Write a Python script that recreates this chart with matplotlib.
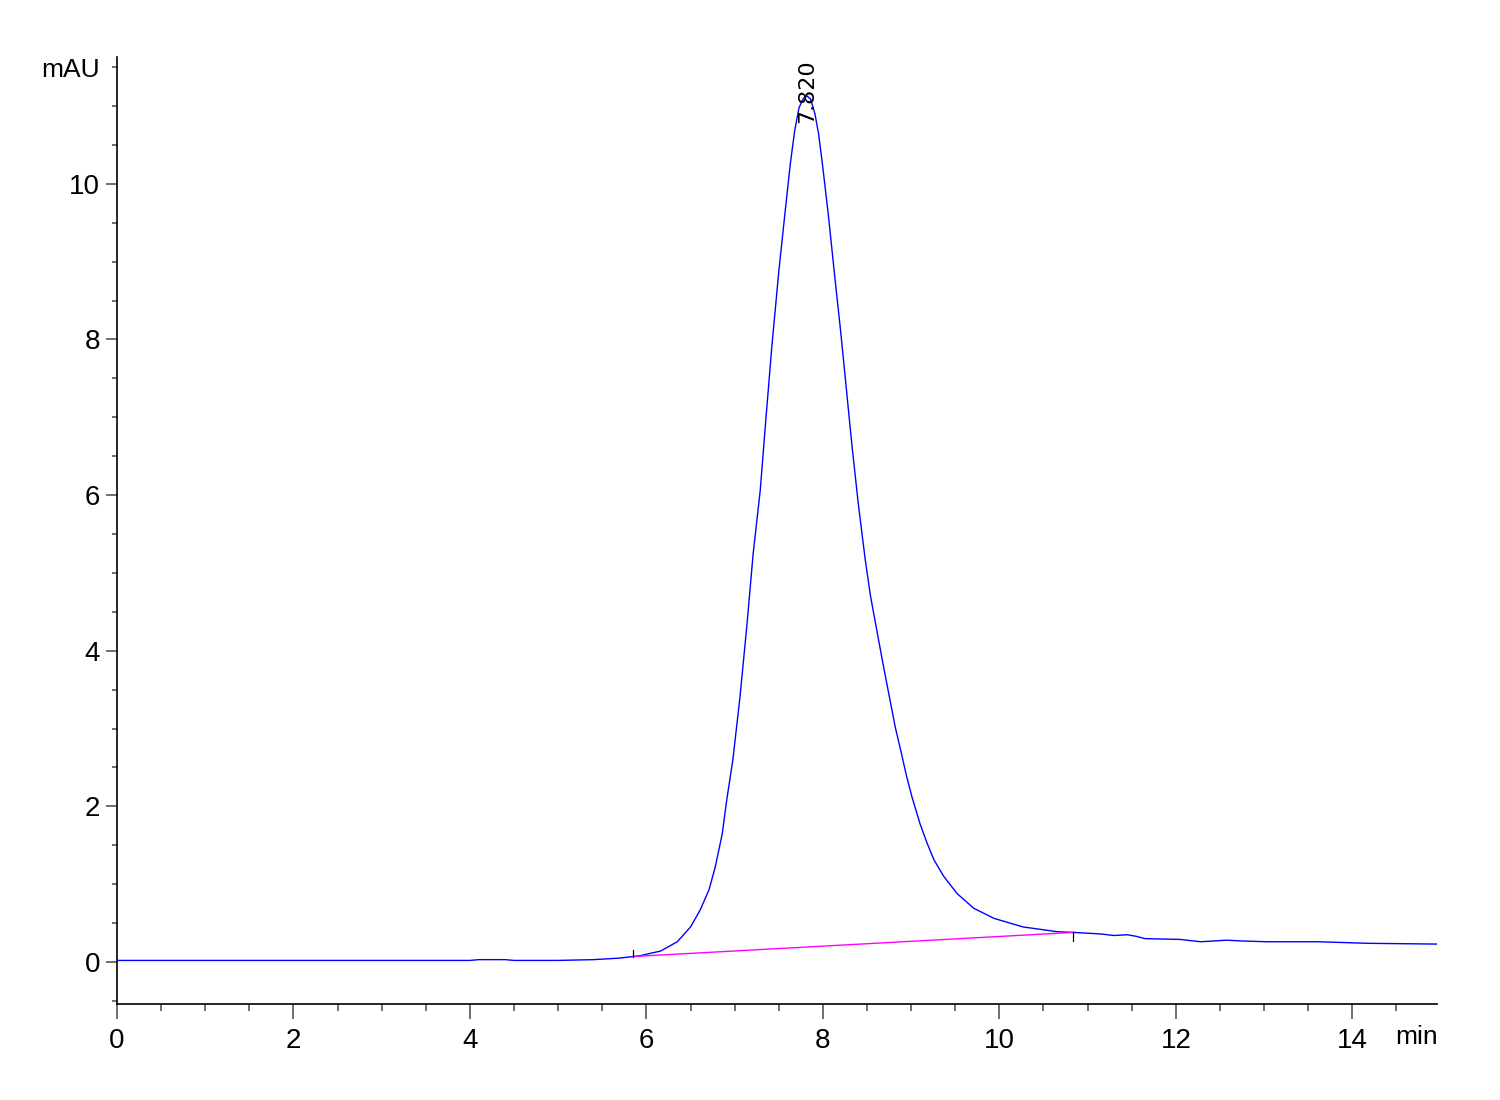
import matplotlib
matplotlib.use("Agg")
import matplotlib.pyplot as plt
from matplotlib.ticker import MultipleLocator

# chromatogram (time in min, signal in mAU)
TIME = [0.0, 1.0, 2.0, 3.0, 4.0, 4.1, 4.4, 4.5, 5.0, 5.4, 5.7, 5.85, 5.93, 6.0, 6.16,
        6.35, 6.50, 6.61, 6.71, 6.78, 6.86, 6.91, 6.98, 7.06, 7.14, 7.21, 7.29, 7.35,
        7.42, 7.50, 7.57, 7.63, 7.68, 7.73, 7.78, 7.82, 7.86, 7.91, 7.95, 7.99, 8.06,
        8.14, 8.20, 8.27, 8.33, 8.36, 8.40, 8.48, 8.54, 8.61, 8.68, 8.76, 8.82, 8.89,
        8.95, 9.01, 9.10, 9.18, 9.26, 9.37, 9.52, 9.71, 9.94, 10.27, 10.65,
        10.84, 11.15, 11.3, 11.45, 11.55, 11.65, 12.05, 12.28, 12.58, 12.75, 13.03,
        13.6, 13.9, 14.17, 14.96]
MAU = [0.02, 0.02, 0.02, 0.02, 0.02, 0.03, 0.03, 0.02, 0.02, 0.03, 0.05, 0.07, 0.08,
       0.10, 0.14, 0.26, 0.45, 0.67, 0.93, 1.22, 1.65, 2.08, 2.60, 3.40, 4.34, 5.25,
       6.06, 6.92, 7.89, 8.87, 9.62, 10.25, 10.68, 10.98, 11.10, 11.13, 11.09, 10.90,
       10.65, 10.30, 9.62, 8.75, 8.12, 7.32, 6.63, 6.32, 5.90, 5.17, 4.70, 4.27, 3.84,
       3.37, 3.02, 2.68, 2.38, 2.12, 1.78, 1.53, 1.31, 1.10, 0.88, 0.69, 0.56,
       0.45, 0.39, 0.38, 0.36, 0.34, 0.35, 0.33, 0.30, 0.29, 0.26, 0.28, 0.27, 0.26,
       0.26, 0.25, 0.24, 0.23]

PEAK_RT = 7.820
BASE_T = [5.85, 10.84]        # integration baseline start / end
BASE_Y = [0.07, 0.38]

XTICKS = [0, 2, 4, 6, 8, 10, 12, 14]
YTICKS = [0, 2, 4, 6, 8, 10]

plt.rcParams["font.family"] = ["Liberation Sans", "DejaVu Sans"]

fig = plt.figure(figsize=(15, 11), dpi=100)
ax = fig.add_axes([117 / 1500, 1 - 1004 / 1100, 1320 / 1500, 947 / 1100])

ax.plot(TIME, MAU, color="#0000ff", lw=1.0)
ax.plot(BASE_T, BASE_Y, color="#ff00ff", lw=1.0)
# start / end markers of the integrated peak
ax.plot([BASE_T[0]] * 2, [BASE_Y[0] - 0.01, BASE_Y[0] + 0.09], color="black", lw=0.9)
ax.plot([BASE_T[1]] * 2, [BASE_Y[1] - 0.11, BASE_Y[1]], color="black", lw=0.9)

ax.text(PEAK_RT, 10.78, f"{PEAK_RT:.3f}", rotation=90, ha="center", va="bottom",
        fontsize=16, family="DejaVu Sans", color="black")

ax.set_xlim(0, 14.96)
ax.set_ylim(-0.54, 11.63)
ax.set_xticks(XTICKS)
ax.set_yticks(YTICKS)
ax.xaxis.set_minor_locator(MultipleLocator(0.5))
ax.yaxis.set_minor_locator(MultipleLocator(0.5))
ax.tick_params(axis="x", which="major", length=11, width=1.2, color="#555",
               labelsize=20, pad=6)
ax.tick_params(axis="x", which="minor", length=5, width=1.2, color="#555")
ax.tick_params(axis="y", which="major", length=8, width=1.2, color="#555",
               labelsize=20, pad=4)
ax.tick_params(axis="y", which="minor", length=3.6, width=1.2, color="#555")
for sp in ["top", "right"]:
    ax.spines[sp].set_visible(False)
for sp in ["left", "bottom"]:
    ax.spines[sp].set_linewidth(1.2)

fig.text(100 / 1500, 1 - 70 / 1100, "mAU", ha="right", va="center", fontsize=19)
fig.text(1438 / 1500, 1 - 1037 / 1100, "min", ha="right", va="center", fontsize=19)

fig.savefig("out.png", dpi=100, facecolor="white")
